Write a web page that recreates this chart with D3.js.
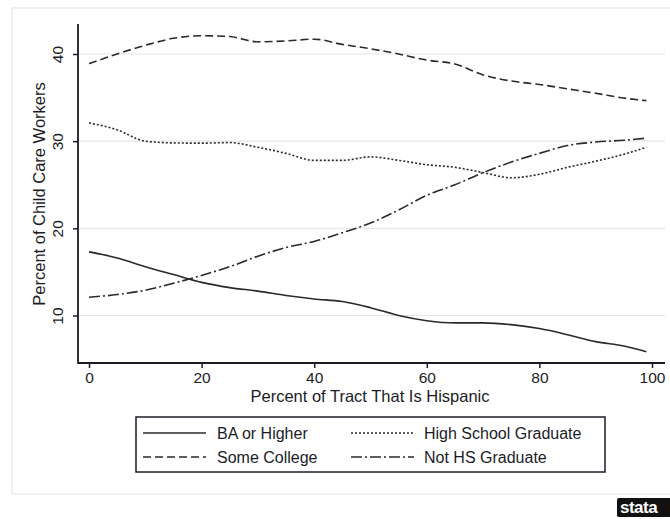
<!DOCTYPE html>
<html>
<head>
<meta charset="utf-8">
<script src="https://cdn.jsdelivr.net/npm/d3@7"></script>
<style>
  html, body { margin: 0; padding: 0; background: #fff; }
  svg { display: block; font-family: "Liberation Sans", Arial, sans-serif; }
  .tick text { font-size: 15.5px; fill: #1c1c28; }
</style>
</head>
<body>
<svg id="chart" width="670" height="519"></svg>
<script>
// Smoothed shares by percent of tract that is Hispanic
const pctHispanic = [0, 5, 10, 15, 20, 25, 30, 35, 40, 45, 50, 55, 60, 65, 70, 75, 80, 85, 90, 95, 99];
const baHigher    = [17.3, 16.6, 15.6, 14.7, 13.8, 13.2, 12.8, 12.3, 11.9, 11.6, 10.9, 10.0, 9.4, 9.15, 9.15, 8.95, 8.5, 7.8, 7.0, 6.5, 5.85];
const someCollege = [38.9, 40.0, 41.0, 41.8, 42.1, 42.0, 41.4, 41.5, 41.7, 41.1, 40.6, 40.0, 39.3, 38.85, 37.6, 36.9, 36.5, 36.0, 35.5, 34.95, 34.65];
const hsGrad      = [32.1, 31.3, 30.0, 29.8, 29.77, 29.84, 29.3, 28.6, 27.8, 27.8, 28.2, 27.8, 27.3, 27.0, 26.4, 25.8, 26.2, 27.0, 27.7, 28.5, 29.3];
const notHsGrad   = [12.1, 12.4, 12.9, 13.7, 14.6, 15.6, 16.8, 17.8, 18.5, 19.5, 20.6, 22.1, 23.8, 25.0, 26.4, 27.6, 28.6, 29.5, 29.9, 30.1, 30.35];

const seriesNames = ['BA or Higher', 'Some College', 'High School Graduate', 'Not HS Graduate'];
const xTicks = [0, 20, 40, 60, 80, 100];
const yTicks = [10, 20, 30, 40];

// Line patterns, in the order of seriesNames
const dashes = [null, '8,4', '2,2', '11,3,2,3'];
const ink = '#1c1c28';

const svg = d3.select('#chart');

// plot region
const plot = { left: 78, right: 665, top: 24, bottom: 363 };

const x = d3.scaleLinear().domain([0, 100]).range([89, 652]);
const y = d3.scaleLinear().domain([10, 40]).range([315.5, 54]);

// outer graph frame
svg.append('rect')
  .attr('x', 12).attr('y', 8)
  .attr('width', 680).attr('height', 486)
  .attr('fill', 'none')
  .attr('stroke', '#ececec')
  .attr('stroke-width', 1.5);

// gridlines
svg.append('g')
  .selectAll('line')
  .data(yTicks)
  .join('line')
    .attr('x1', plot.left).attr('x2', plot.right)
    .attr('y1', d => y(d)).attr('y2', d => y(d))
    .attr('stroke', '#e6e6e6')
    .attr('stroke-width', 1.2);

// series lines
const allSeries = [baHigher, someCollege, hsGrad, notHsGrad];
const line = d3.line()
  .x((d, i) => x(pctHispanic[i]))
  .y(d => y(d))
  .curve(d3.curveMonotoneX);

svg.append('g')
  .selectAll('path')
  .data(allSeries)
  .join('path')
    .attr('d', d => line(d))
    .attr('fill', 'none')
    .attr('stroke', '#2a2a2a')
    .attr('stroke-width', 1.6)
    .attr('stroke-dasharray', (d, i) => dashes[i]);

// axes
const xAxis = svg.append('g')
  .attr('transform', `translate(0,${plot.bottom})`)
  .call(d3.axisBottom(x).tickValues(xTicks).tickSize(5));
xAxis.select('.domain').remove();
xAxis.selectAll('.tick line').attr('stroke', ink).attr('stroke-width', 1.5);
xAxis.selectAll('.tick text').attr('y', 20).attr('dy', 0);

const yAxis = svg.append('g')
  .attr('transform', `translate(${plot.left},0)`)
  .call(d3.axisLeft(y).tickValues(yTicks).tickSize(5));
yAxis.select('.domain').remove();
yAxis.selectAll('.tick line').attr('stroke', ink).attr('stroke-width', 1.5);
yAxis.selectAll('.tick text')
  .attr('transform', 'rotate(-90)')
  .attr('x', 0).attr('y', -15).attr('dy', 0)
  .attr('text-anchor', 'middle');

svg.append('line')
  .attr('x1', plot.left).attr('x2', plot.left)
  .attr('y1', plot.top).attr('y2', plot.bottom + 0.75)
  .attr('stroke', ink).attr('stroke-width', 1.8);
svg.append('line')
  .attr('x1', plot.left).attr('x2', plot.right)
  .attr('y1', plot.bottom).attr('y2', plot.bottom)
  .attr('stroke', ink).attr('stroke-width', 1.8);

// axis titles
svg.append('text')
  .attr('x', 370).attr('y', 402)
  .attr('text-anchor', 'middle')
  .attr('font-size', 16.5)
  .attr('fill', ink)
  .text('Percent of Tract That Is Hispanic');

svg.append('text')
  .attr('transform', 'translate(45,194) rotate(-90)')
  .attr('text-anchor', 'middle')
  .attr('font-size', 16.5)
  .attr('fill', ink)
  .text('Percent of Child Care Workers');

// legend
const legend = svg.append('g');
legend.append('rect')
  .attr('x', 136).attr('y', 417)
  .attr('width', 469).attr('height', 55)
  .attr('fill', '#fff')
  .attr('stroke', ink)
  .attr('stroke-width', 1.5);

const legendPos = [
  { lx: 143, tx: 217, ly: 433 },
  { lx: 143, tx: 217, ly: 457 },
  { lx: 351, tx: 424, ly: 433 },
  { lx: 351, tx: 424, ly: 457 }
];
const items = legend.selectAll('g.item')
  .data(seriesNames)
  .join('g')
    .attr('class', 'item');
items.append('line')
  .attr('x1', (d, i) => legendPos[i].lx)
  .attr('x2', (d, i) => legendPos[i].lx + 63)
  .attr('y1', (d, i) => legendPos[i].ly)
  .attr('y2', (d, i) => legendPos[i].ly)
  .attr('stroke', '#2a2a2a')
  .attr('stroke-width', 1.6)
  .attr('stroke-dasharray', (d, i) => dashes[i]);
items.append('text')
  .attr('x', (d, i) => legendPos[i].tx)
  .attr('y', (d, i) => legendPos[i].ly + 5.5)
  .attr('font-size', 16)
  .attr('fill', ink)
  .text(d => d);

// stata mark, bottom right
svg.append('rect')
  .attr('x', 617).attr('y', 498)
  .attr('width', 60).attr('height', 19)
  .attr('rx', 2)
  .attr('fill', '#111');
svg.append('text')
  .attr('x', 620).attr('y', 513)
  .attr('font-size', 17)
  .attr('font-weight', 'bold')
  .attr('fill', '#fff')
  .attr('letter-spacing', -0.5)
  .text('stata');
</script>
</body>
</html>
